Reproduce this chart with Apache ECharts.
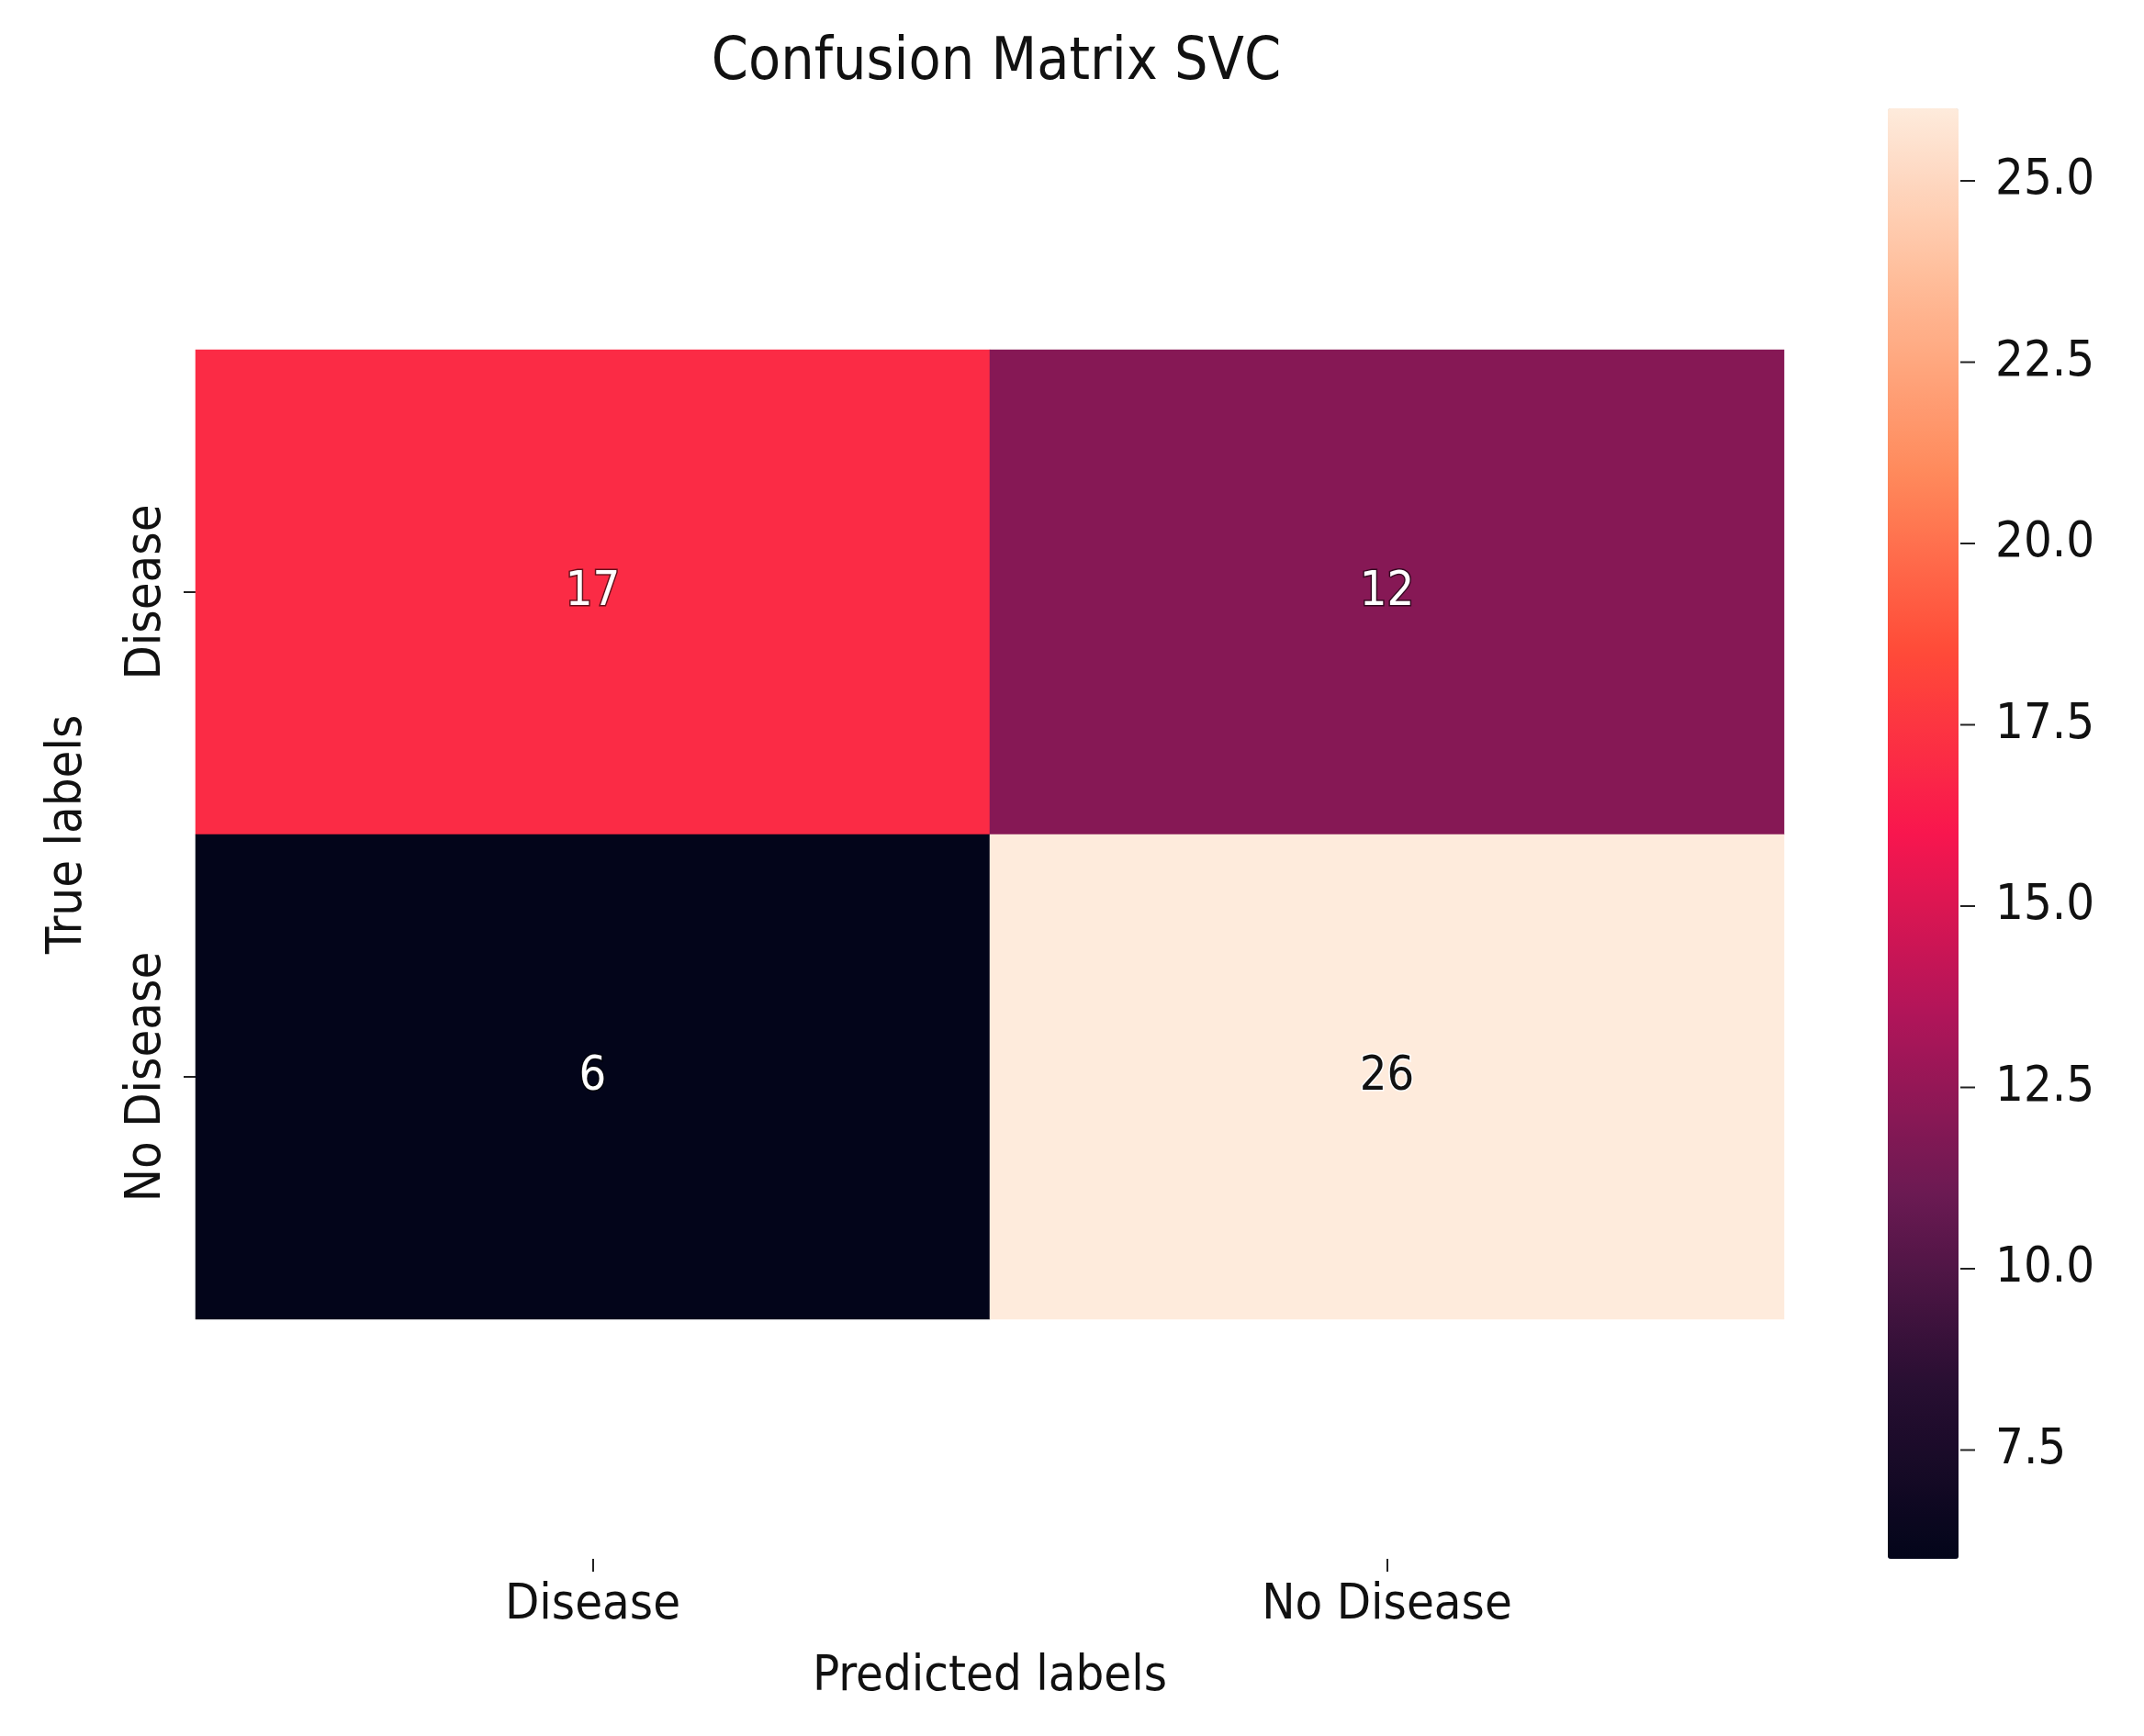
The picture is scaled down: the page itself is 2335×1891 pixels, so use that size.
<!DOCTYPE html>
<html>
<head>
<meta charset="utf-8">
<script src="https://cdn.jsdelivr.net/npm/echarts@6/dist/echarts.min.js"></script>
<style>
  html, body { margin: 0; padding: 0; background: #fff; }
  #main { width: 2335px; height: 1891px; }
</style>
</head>
<body>
<div id="main"></div>
<script>
// confusion matrix values
var predictedLabels = ['Disease', 'No Disease'];
var trueLabels = ['Disease', 'No Disease'];
var matrix = [
  [17, 12], // true Disease
  [6, 26]   // true No Disease
];
var colorbarTicks = [7.5, 10, 12.5, 15, 17.5, 20, 22.5, 25];
var vMin = 6, vMax = 26;

var FONT = "'DejaVu Sans Condensed', 'DejaVu Sans', sans-serif";

// rocket-like colormap
var rocket = ['#03051a', '#2a0f33', '#6a1a52', '#b01559', '#f8164e',
  '#ff4a38', '#ff8a5c', '#ffba96', '#feebdc'];

var cells = [];
for (var i = 0; i < trueLabels.length; i++) {
  for (var j = 0; j < predictedLabels.length; j++) {
    var v = matrix[i][j];
    var light = v > 21;
    cells.push({
      value: [j, i, v],
      label: {
        color: light ? '#111' : '#fff',
        textBorderColor: light ? '#fff' : 'rgba(0,0,0,0.6)'
      }
    });
  }
}

var chart = echarts.init(document.getElementById('main'));
var option = {
  backgroundColor: '#fff',
  animation: false,
  title: {
    text: 'Confusion Matrix SVC',
    left: 1080,
    top: 32,
    textAlign: 'center',
    textStyle: { fontFamily: FONT, fontSize: 64, fontWeight: 'normal', color: '#111' }
  },
  grid: [
    { left: 213, top: 381, width: 1730, height: 1056 },
    { left: 2056, top: 118, width: 77, height: 1580 }
  ],
  xAxis: [{
    type: 'category',
    gridIndex: 0,
    data: predictedLabels,
    position: 'bottom',
    offset: 261,
    name: 'Predicted labels',
    nameLocation: 'middle',
    nameGap: 102,
    nameTextStyle: { fontFamily: FONT, fontSize: 54, color: '#111' },
    axisLine: { show: false },
    axisTick: { show: true, alignWithLabel: true, length: 14, lineStyle: { color: '#222', width: 2 } },
    axisLabel: { fontFamily: FONT, fontSize: 54, color: '#111', margin: 24 },
    splitLine: { show: false }
  }, {
    type: 'value',
    gridIndex: 1,
    min: 0,
    max: 1,
    show: false
  }],
  yAxis: [{
    type: 'category',
    gridIndex: 0,
    data: trueLabels,
    inverse: true,
    name: 'True labels',
    nameLocation: 'middle',
    nameRotate: 90,
    nameGap: 112,
    nameTextStyle: { fontFamily: FONT, fontSize: 54, color: '#111' },
    axisLine: { show: false },
    axisTick: { show: true, alignWithLabel: true, length: 13, lineStyle: { color: '#222', width: 2 } },
    axisLabel: { fontFamily: FONT, fontSize: 54, color: '#111', rotate: 90, margin: 26 },
    splitLine: { show: false }
  }, {
    type: 'value',
    gridIndex: 1,
    position: 'right',
    min: vMin,
    max: vMax,
    axisLine: { show: false },
    axisTick: { show: false },
    axisLabel: {
      customValues: colorbarTicks,
      fontFamily: FONT, fontSize: 54, color: '#111', margin: 40,
      formatter: function (v) { return v.toFixed(1); }
    },
    splitLine: { show: false }
  }],
  visualMap: {
    type: 'continuous',
    min: vMin,
    max: vMax,
    seriesIndex: 0,
    calculable: false,
    left: 2056,
    top: 118,
    padding: 0,
    itemWidth: 77,
    itemHeight: 1580,
    text: ['', ''],
    inRange: { color: rocket }
  },
  series: [{
    type: 'heatmap',
    xAxisIndex: 0,
    yAxisIndex: 0,
    data: cells,
    label: {
      show: true,
      fontFamily: FONT,
      fontSize: 52,
      textBorderWidth: 3,
      formatter: function (p) { return p.value[2]; }
    },
    itemStyle: { borderWidth: 0 },
    emphasis: { disabled: true }
  }, {
    // colorbar tick marks, placed through the colorbar axis
    type: 'custom',
    xAxisIndex: 1,
    yAxisIndex: 1,
    silent: true,
    data: colorbarTicks.map(function (t) { return [1, t]; }),
    renderItem: function (params, api) {
      var p = api.coord([1, api.value(1)]);
      return {
        type: 'line',
        shape: { x1: p[0] + 2, y1: p[1], x2: p[0] + 18, y2: p[1] },
        style: { stroke: '#222', lineWidth: 2 }
      };
    }
  }]
};
chart.setOption(option);
</script>
</body>
</html>
